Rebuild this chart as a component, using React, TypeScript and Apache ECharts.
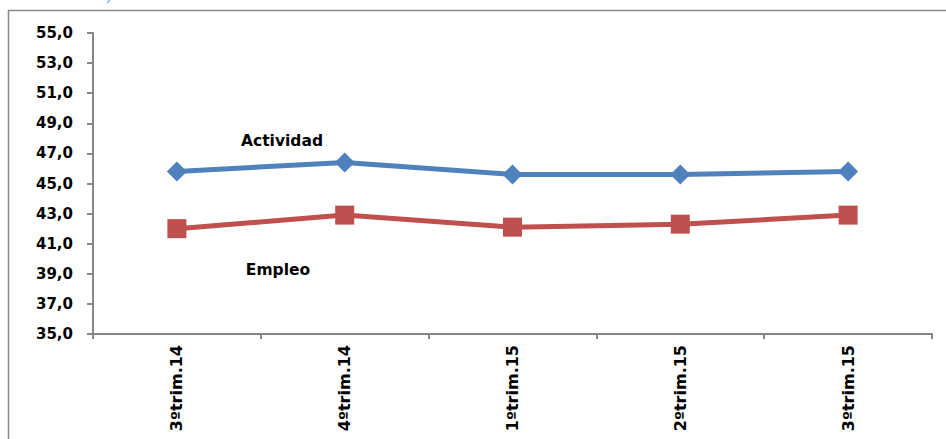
import React, { useEffect, useRef } from "react";
import * as echarts from "echarts";

const categories = ["3ºtrim.14", "4ºtrim.14", "1ºtrim.15", "2ºtrim.15", "3ºtrim.15"];
const actividad = [45.8, 46.4, 45.6, 45.6, 45.8];
const empleo = [42.0, 42.9, 42.1, 42.3, 42.9];
const yMin = 35;
const yMax = 55;
const yInterval = 2;

const FONT = "'DejaVu Sans', 'Open Sans', sans-serif";

export default function App() {
  const ref = useRef<HTMLDivElement>(null);
  useEffect(() => {
    if (!ref.current) return;
    const chart = echarts.init(ref.current, null, { renderer: "svg" });
    chart.setOption({
      animation: false,
      backgroundColor: "#ffffff",
      grid: { left: 93, top: 33, right: 14, bottom: 105, containLabel: false },
      xAxis: {
        type: "category",
        data: categories,
        boundaryGap: true,
        axisLine: { lineStyle: { color: "#868686", width: 2 } },
        axisTick: { show: true, length: 5, lineStyle: { color: "#868686", width: 2 } },
        axisLabel: {
          rotate: 90,
          margin: 11,
          color: "#000",
          fontFamily: FONT,
          fontWeight: "bold",
          fontSize: 16,
        },
        splitLine: { show: false },
      },
      yAxis: {
        type: "value",
        min: yMin,
        max: yMax,
        interval: yInterval,
        axisLine: { show: true, lineStyle: { color: "#868686", width: 2 } },
        axisTick: { show: true, length: 6, lineStyle: { color: "#868686", width: 2 } },
        axisLabel: {
          margin: 20,
          color: "#000",
          fontFamily: FONT,
          fontWeight: "bold",
          fontSize: 15,
          formatter: (v: number) => v.toFixed(1).replace(".", ","),
        },
        splitLine: { show: false },
      },
      series: [
        {
          name: "Actividad",
          type: "line",
          data: actividad,
          symbol: "diamond",
          symbolSize: [20, 20],
          lineStyle: { color: "#4F81BD", width: 5 },
          itemStyle: { color: "#4F81BD" },
        },
        {
          name: "Empleo",
          type: "line",
          data: empleo,
          symbol: "rect",
          symbolSize: [19, 19],
          lineStyle: { color: "#C0504D", width: 5 },
          itemStyle: { color: "#C0504D" },
        },
      ],
      graphic: [
        {
          type: "rect",
          shape: { x: 8.5, y: 10.5, width: 1200, height: 800 },
          style: { fill: "none", stroke: "#8a8a8a", lineWidth: 1.5 },
          silent: true,
        },
        {
          type: "line",
          shape: { x1: 107, y1: 3, x2: 110, y2: 0 },
          style: { stroke: "#7ab8f0", lineWidth: 1.5 },
          silent: true,
        },
        {
          type: "text",
          x: 282,
          y: 141,
          style: {
            text: "Actividad",
            fill: "#000",
            font: "bold 15.5px " + FONT,
            align: "center",
            verticalAlign: "middle",
          },
        },
        {
          type: "text",
          x: 278,
          y: 270,
          style: {
            text: "Empleo",
            fill: "#000",
            font: "bold 15.5px " + FONT,
            align: "center",
            verticalAlign: "middle",
          },
        },
      ],
    });
    return () => chart.dispose();
  }, []);
  return (
    <div
      ref={ref}
      style={{ position: "fixed", left: 0, top: 0, width: 946, height: 439 }}
    />
  );
}
